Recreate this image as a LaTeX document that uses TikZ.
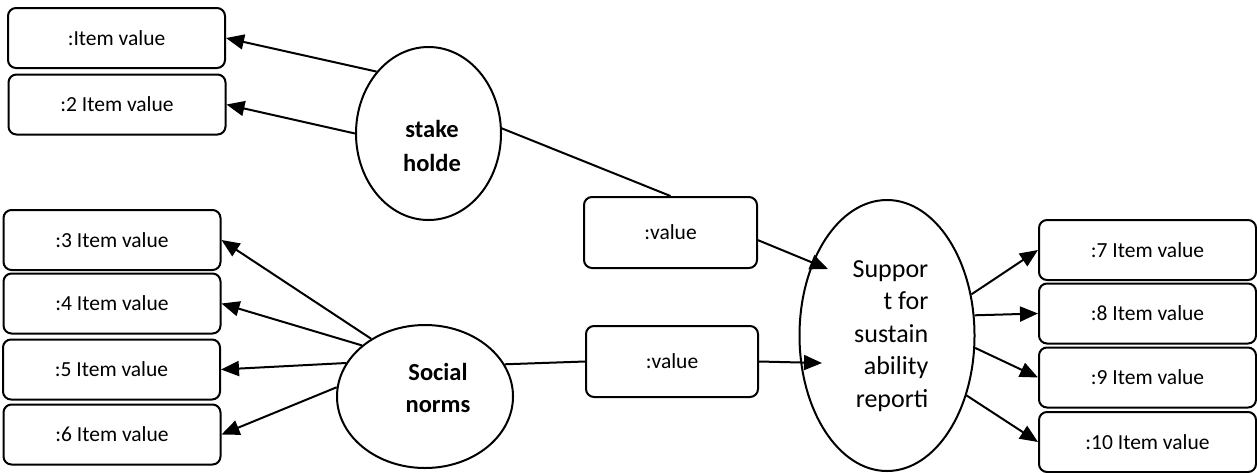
\documentclass[tikz,border=0pt]{standalone}
\usepackage{fontspec}
\setmainfont{Carlito}
\usetikzlibrary{arrows.meta,shapes.geometric}

\begin{document}
\begin{tikzpicture}[ x=0.5pt, y=-0.5pt, >={Triangle[length=9pt,width=7.5pt]},
    item/.style={ draw, rounded corners=4pt, line width=1pt,
    minimum width=108.5pt, minimum height=30pt, inner sep=0pt,
    font=\fontsize{10.75}{13}\selectfont }, latent/.style={ draw,
    ellipse, line width=1pt, inner sep=0pt }, link/.style={ line
    width=1pt }, pathto/.style={ ->, line width=1pt } ]
  \useasboundingbox (0,0) rectangle (1257,472);
  % indicator boxes
  \foreach \x/\y/\n/\t in {116.5/38/1/:Item value,117/104.5/2/:2 Item value,
    112/240/3/:3 Item value,112/303.5/4/:4 Item value,111.5/369.5/5/:5 Item value,
    112/434.5/6/:6 Item value,1147.5/250/7/:7 Item value,1147.5/313.5/8/:8 Item value,
    1147.5/377.5/9/:9 Item value,1147.5/442/10/:10 Item value}
  \node[item] (b\n) at (\x,\y) {\t};
  \node[item,minimum width=86.5pt,minimum height=35.5pt] (v1) at (670.5,232.5) {:value};
  \node[item,minimum width=86pt,minimum height=35.5pt] (v2) at (672,361.5) {:value};
  % latent variables
  \node[latent,minimum width=72.5pt,minimum height=86.5pt] (sh) at (428.5,133.5) {};
  \node[latent,minimum width=88pt,minimum height=71.5pt] (sn) at (425,396.5) {};
  \node[latent,minimum width=87.5pt,minimum height=135.5pt] (sp) at (887,335.5) {};
  \node[font=\bfseries\fontsize{12.25}{17}\selectfont,align=center] (sh-txt) at (432,146) {stake\\holde};
  \node[font=\bfseries\fontsize{12.25}{16}\selectfont,align=center] (sn-txt) at (438,387.5) {Social\\norms};
  \node[font=\fontsize{13}{16.25}\selectfont,align=right] (sp-txt) at (890.5,336) {Suppor\\t for\\sustain\\ability\\reporti};
  \coordinate (sp-a) at (828,269);
  \coordinate (sp-b) at (822,363);
  % paths
  \foreach \a/\n in {130/1,180/2} \draw[pathto] (sh.\a) -- (b\n.east);
  \foreach \a/\n in {133/3,141/4,157/5,174/6} \draw[pathto] (sn.\a) -- (b\n.east);
  \foreach \a/\n in {26/7,13/8,-8/9,-37/10} \draw[pathto] (sp.\a) -- (b\n.west);
  \draw[link] (sh.4) -- (v1.north);
  \draw[link] (sn.22) -- (v2.west);
  \draw[pathto] (v1.-5) -- (sp-a);
  \draw[pathto] (v2.east) -- (sp-b);
\end{tikzpicture}
\end{document}
